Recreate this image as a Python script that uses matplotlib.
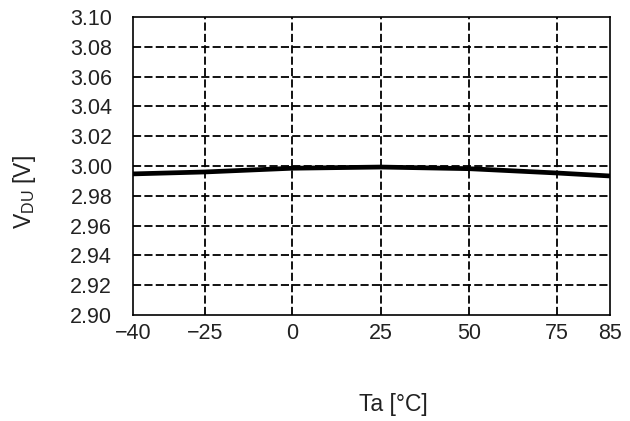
import numpy as np
import matplotlib
matplotlib.use("Agg")
import matplotlib.pyplot as plt

# Data
temps = [-40, -25, 0, 25, 50, 75, 85]
vdu = [2.9947, 2.9960, 2.9985, 2.9993, 2.9982, 2.9953, 2.9933]
xticks = [-40, -25, 0, 25, 50, 75, 85]
xtick_labels = ["\u221240", "\u221225", "0", "25", "50", "75", "85"]
yticks = [2.90, 2.92, 2.94, 2.96, 2.98, 3.00, 3.02, 3.04, 3.06, 3.08, 3.10]
ytick_labels = [f"{v:.2f}" for v in yticks]

plt.rcParams['font.family'] = ['Liberation Sans', 'DejaVu Sans']

fig = plt.figure(figsize=(6.3, 4.21), dpi=100)
ax = fig.add_axes([133/630, 1-315/421, (610-133)/630, (315-17)/421])

# non-uniform x axis as in the original
_vals = np.array(xticks, dtype=float)
_pos = np.array([0, 72, 159, 248, 336, 424, 477], dtype=float)
def fwd(x):
    return np.interp(x, _vals, _pos)
def inv(p):
    return np.interp(p, _pos, _vals)
ax.set_xscale('function', functions=(fwd, inv))

ax.plot(temps, vdu, color='black', lw=3.4, solid_capstyle='butt', zorder=3)

ax.set_xlim(-40, 85)
ax.set_ylim(2.90, 3.10)
ax.set_xticks(xticks)
ax.set_xticklabels(xtick_labels)
ax.set_yticks(yticks)
ax.set_yticklabels(ytick_labels)
ax.minorticks_off()
ax.tick_params(length=0, labelsize=15.5, colors='#222222')
ax.tick_params(axis='y', pad=15)
ax.tick_params(axis='x', pad=6)

for v in xticks[1:-1]:
    ax.axvline(v, color='black', lw=1.3, linestyle=(0, (4.5, 1.8)), zorder=1)
for v in yticks[1:-1]:
    ax.axhline(v, color='black', lw=1.3, linestyle=(0, (4.5, 1.8)), zorder=1)

for s in ax.spines.values():
    s.set_linewidth(1.2)
    s.set_color('black')

fig.text(393/630, 1-405/421, "Ta [°C]", ha='center', va='center', fontsize=16.5, color='#222222')
fig.text(24/630, 1-192/421, r"V$_{\mathregular{DU}}$ [V]", ha='center', va='center',
         rotation=90, fontsize=16.5, color='#222222')

fig.savefig("out.png", dpi=100)
